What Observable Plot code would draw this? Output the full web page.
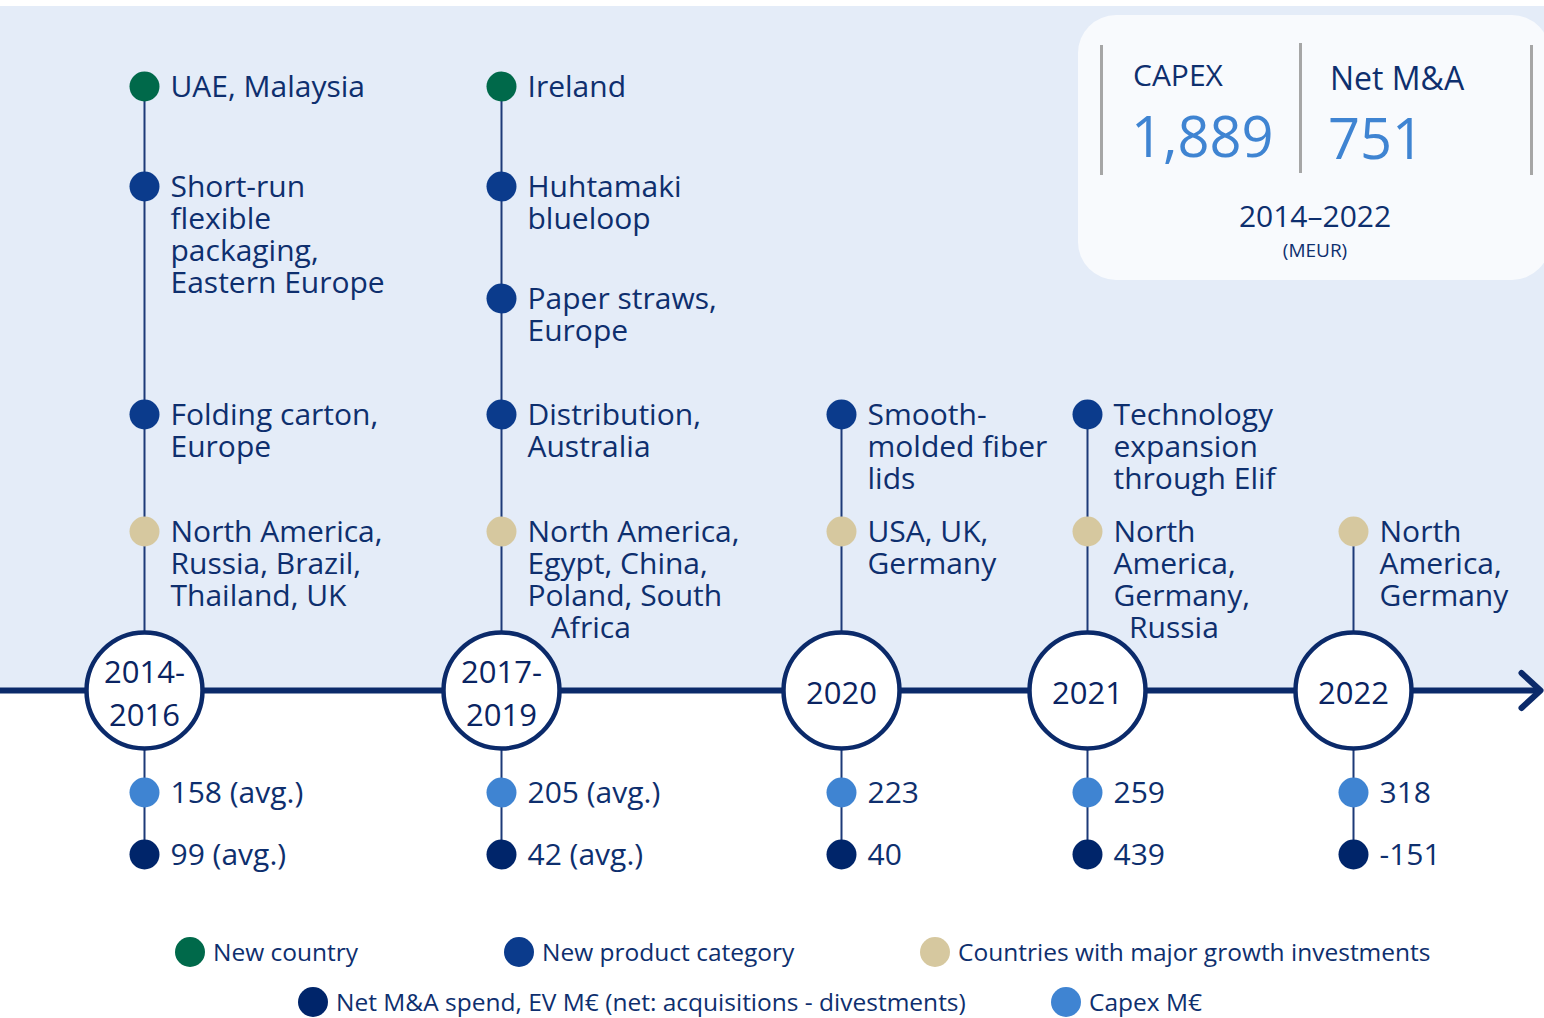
<!DOCTYPE html>
<html><head><meta charset="utf-8">
<script src="https://cdn.jsdelivr.net/npm/d3@7"></script>
<script src="https://cdn.jsdelivr.net/npm/@observablehq/plot@0.6"></script>
<style>
html,body{margin:0;padding:0;overflow:hidden;background:#fff;}
#wrap{position:relative;width:1544px;height:1018px;overflow:hidden;font-family:"Open Sans",sans-serif;color:#0E2F6E;}
#chart{position:absolute;left:0;top:0;}
#box{position:absolute;left:1078px;top:15px;width:472px;height:265px;border-radius:38px;background:#F8FAFD;}
.bar{position:absolute;width:3px;background:#A6A6A6;}
.bt{position:absolute;line-height:1;white-space:nowrap;}
#legend{position:absolute;left:0;top:900px;width:1544px;height:118px;}
.li{position:absolute;display:flex;align-items:center;height:30px;font-size:24.5px;line-height:1;white-space:nowrap;}
.li .sw{width:30px;height:30px;border-radius:50%;margin-right:8px;flex:none;}
</style></head>
<body><div id="wrap"><div id="chart"></div><div id="box"></div><div id="legend"></div></div>
<script>
// ---------- DATA ----------
const periods = ["2014-2016", "2017-2019", "2020", "2021", "2022"];
const periodLabels = ["2014-\n2016", "2017-\n2019", "2020", "2021", "2022"];
const periodYears = [3, 3, 1, 1, 1];
const capex = [158, 205, 223, 259, 318];      // Capex M€ (avg. for multi-year periods)
const netMA = [99, 42, 40, 439, -151];        // Net M&A spend, EV M€

const categories = ["New country", "New product category", "Countries with major growth investments"];
const seriesNames = ["Net M&A spend, EV M€ (net: acquisitions - divestments)", "Capex M€"];

// row: 0 = new country, 1..3 = new product slots, 4 = growth investments
const newCountry = [
  {period: "2014-2016", row: 0, text: "UAE, Malaysia"},
  {period: "2017-2019", row: 0, text: "Ireland"}
];
const newProduct = [
  {period: "2014-2016", row: 1, text: "Short-run\nflexible\npackaging,\nEastern Europe"},
  {period: "2014-2016", row: 3, text: "Folding carton,\nEurope"},
  {period: "2017-2019", row: 1, text: "Huhtamaki\nblueloop"},
  {period: "2017-2019", row: 2, text: "Paper straws,\nEurope"},
  {period: "2017-2019", row: 3, text: "Distribution,\nAustralia"},
  {period: "2020", row: 3, text: "Smooth-\nmolded fiber\nlids"},
  {period: "2021", row: 3, text: "Technology\nexpansion\nthrough Elif"}
];
const growth = [
  {period: "2014-2016", row: 4, text: "North America,\nRussia, Brazil,\nThailand, UK"},
  {period: "2017-2019", row: 4, text: "North America,\nEgypt, China,\nPoland, South\n\u00a0\u00a0\u00a0Africa"},
  {period: "2020", row: 4, text: "USA, UK,\nGermany"},
  {period: "2021", row: 4, text: "North\nAmerica,\nGermany,\n\u00a0\u00a0Russia"},
  {period: "2022", row: 4, text: "North\nAmerica,\nGermany"}
];
const boxTitle = "2014–2022";
const boxUnit = "(MEUR)";
const boxLabels = ["CAPEX", "Net M&A"];

// ---------- STYLE ----------
const C = {
  green: "#00694A", product: "#0B3B8C", beige: "#D6C89F",
  capex: "#3F84D2", ma: "#00256A", text: "#0E2F6E",
  axis: "#0B2A6A", link: "#1D3A78", year: "#0A2462"
};
const TIMELINE = 5, CAPEX_ROW = 6, MA_ROW = 7;
const pIdx = p => periods.indexOf(p);
const allItems = [...newCountry, ...newProduct, ...growth];
const topRow = periods.map(p => d3.min(allItems.filter(d => d.period === p), d => d.row));

const chevron = {draw(ctx) { ctx.moveTo(-19, -17.5); ctx.lineTo(0, 0); ctx.lineTo(-19, 17.5); }};

const labelOpts = {dx: 26, dy: -12, textAnchor: "start", lineAnchor: "top", fontSize: 30, lineHeight: 1.067, fill: C.text};

const chart = Plot.plot({
  width: 1544, height: 900,
  marginLeft: 0, marginRight: 4, marginTop: 0, marginBottom: 0,
  style: {background: "linear-gradient(to bottom, #fff 0px, #fff 6px, #E4ECF8 6px, #E4ECF8 690px, #fff 690px)", fontFamily: "'Open Sans', sans-serif", overflow: "visible"},
  x: {type: "linear", domain: [0, 1, 2, 3, 4], range: [144, 501, 841, 1087, 1353], axis: null},
  y: {type: "linear", domain: [0, 1, 2, 3, 4, 5, 6, 7], range: [86, 186, 298, 414, 531, 690, 792, 854], axis: null},
  marks: [
    Plot.ruleX(periods, {x: (d, i) => i, y1: (d, i) => topRow[i], y2: () => MA_ROW, stroke: C.link, strokeWidth: 2}),
    Plot.ruleY([TIMELINE], {stroke: C.axis, strokeWidth: 6}),
    Plot.dot([0], {frameAnchor: "right", y: () => TIMELINE, symbol: chevron, fill: "none", stroke: C.axis, strokeWidth: 6, strokeLinecap: "round", strokeLinejoin: "round"}),
    Plot.dot(newCountry, {x: d => pIdx(d.period), y: "row", r: 15, fill: C.green}),
    Plot.dot(newProduct, {x: d => pIdx(d.period), y: "row", r: 15, fill: C.product}),
    Plot.dot(growth, {x: d => pIdx(d.period), y: "row", r: 15, fill: C.beige}),
    Plot.text(allItems, {x: d => pIdx(d.period), y: "row", text: "text", ...labelOpts}),
    Plot.dot(periods, {x: (d, i) => i, y: () => TIMELINE, r: 58, fill: "white", stroke: C.axis, strokeWidth: 4.5}),
    Plot.text(periodLabels, {x: (d, i) => i, y: () => TIMELINE, text: d => d, fontSize: 31, lineHeight: 1.39, fill: C.year, fontWeight: 500}),
    Plot.dot(capex, {x: (d, i) => i, y: () => CAPEX_ROW, r: 15, fill: C.capex}),
    Plot.text(capex, {x: (d, i) => i, y: () => CAPEX_ROW, text: (d, i) => periodYears[i] > 1 ? `${d} (avg.)` : `${d}`, ...labelOpts}),
    Plot.dot(netMA, {x: (d, i) => i, y: () => MA_ROW, r: 15, fill: C.ma}),
    Plot.text(netMA, {x: (d, i) => i, y: () => MA_ROW, text: (d, i) => periodYears[i] > 1 ? `${d} (avg.)` : `${d}`, ...labelOpts})
  ]
});
document.getElementById("chart").appendChild(chart);

// ---------- INFO BOX ----------
const capexTotal = d3.sum(capex, (v, i) => v * periodYears[i]);
const maTotal = d3.sum(netMA, (v, i) => v * periodYears[i]);
const fmt = d3.format(",");
const box = document.getElementById("box");
function el(cls, css, txt) {
  const e = document.createElement("div");
  e.className = cls; e.style.cssText = css; if (txt != null) e.textContent = txt;
  box.appendChild(e); return e;
}
el("bar", "left:22px;top:30px;height:130px;");
el("bar", "left:221px;top:28px;height:130px;");
el("bar", "left:452px;top:30px;height:130px;");
el("bt", "left:55px;top:45px;font-size:30px;", boxLabels[0]);
el("bt", "left:252px;top:47px;font-size:32px;", boxLabels[1]);
el("bt", `left:53px;top:92px;font-size:56px;color:${C.capex};`, fmt(capexTotal));
el("bt", `left:250px;top:94px;font-size:56px;color:${C.capex};`, fmt(maTotal));
el("bt", "left:137px;width:200px;text-align:center;top:186px;font-size:30px;", boxTitle);
el("bt", "left:137px;width:200px;text-align:center;top:226px;font-size:19px;", boxUnit);

// ---------- LEGEND ----------
const legend = document.getElementById("legend");
const legendItems = [
  {label: categories[0], color: C.green, left: 175, top: 37},
  {label: categories[1], color: C.product, left: 504, top: 37},
  {label: categories[2], color: C.beige, left: 920, top: 37},
  {label: seriesNames[0], color: C.ma, left: 298, top: 87},
  {label: seriesNames[1], color: C.capex, left: 1051, top: 87}
];
for (const it of legendItems) {
  const d = document.createElement("div");
  d.className = "li"; d.style.left = it.left + "px"; d.style.top = it.top + "px";
  const sw = document.createElement("span"); sw.className = "sw"; sw.style.background = it.color;
  const t = document.createElement("span"); t.textContent = it.label;
  d.appendChild(sw); d.appendChild(t); legend.appendChild(d);
}
</script></body></html>
